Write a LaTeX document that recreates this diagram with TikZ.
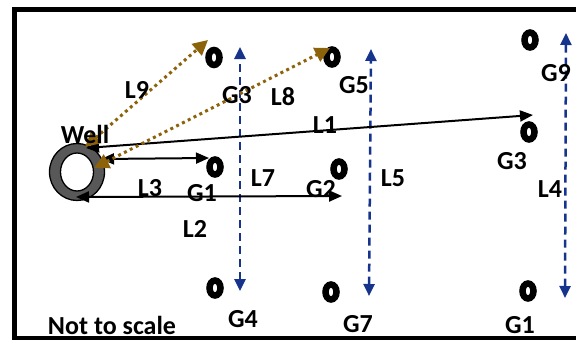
\documentclass[tikz,border=0pt]{standalone}
\usepackage{fontspec}
\setmainfont{Carlito}
\usetikzlibrary{arrows.meta,shapes.geometric}
\definecolor{dotbrown}{RGB}{140,98,10}
\definecolor{dashblue}{RGB}{22,52,140}
\definecolor{ringgray}{RGB}{88,88,88}

\begin{document}
\begin{tikzpicture}[x=1pt,y=-1pt,
  lbl/.style={font=\fontsize{26}{26}\selectfont\bfseries, inner sep=0pt},
  gauge/.style={draw=black, line width=6.5pt, ellipse, minimum width=11pt,
                minimum height=15pt, inner sep=0pt},
  solidlink/.style={draw=black, line width=2pt,
                {Triangle[length=13pt,width=11pt]}-{Triangle[length=13pt,width=11pt]}},
  dottedlink/.style={draw=dotbrown, line width=3pt, dash pattern=on 3pt off 3.5pt,
                {Triangle[length=15pt,width=15pt]}-{Triangle[length=15pt,width=15pt]}},
  dashedlink/.style={draw=dashblue, line width=2.5pt, dash pattern=on 8pt off 5pt,
                {Triangle[length=12pt,width=11pt]}-{Triangle[length=12pt,width=11pt]}},
]
\clip (0,0) rectangle (576,340);
\useasboundingbox (0,0) rectangle (576,340);

% frame, open on the right
\draw[line width=4.5pt] (600,9.7) -- (14.5,9.7) -- (14.5,338.5) -- (600,338.5);

% the well
\coordinate (well) at (77,172);
\path[fill=ringgray, draw=black, line width=1.3pt, even odd rule]
  (well) ellipse [x radius=27.5, y radius=28.5]
  (well) ellipse [x radius=16.5, y radius=19];

% gauges
\node[gauge] (g3a) at (214,57.5) {};
\node[gauge] (g5)  at (332,57) {};
\node[gauge] (g9)  at (530,40) {};
\node[gauge] (g3b) at (529,132) {};
\node[gauge] (g1a) at (215,167) {};
\node[gauge] (g2)  at (339,169) {};
\node[gauge] (g4)  at (215,288) {};
\node[gauge] (g7)  at (331,292) {};
\node[gauge] (g1b) at (528,291) {};

% connector end points
\coordinate (l1s) at (86,148);   \coordinate (l1e) at (533,115);
\coordinate (l7s) at (101,159);  \coordinate (l7e) at (209,158);
\coordinate (l3s) at (76,197);   \coordinate (l3e) at (342,196);
\coordinate (l9s) at (85,147);   \coordinate (l9e) at (208,40);
\coordinate (l8s) at (94,168);   \coordinate (l8e) at (330,48);
\coordinate (v1t) at (240,47);   \coordinate (v1b) at (240,291);
\coordinate (v2t) at (371,49);   \coordinate (v2b) at (369,296);
\coordinate (v3t) at (566,33);   \coordinate (v3b) at (565,298);

% vertical transects
\draw[dashedlink] (v1b) -- (v1t);
\draw[dashedlink] (v2b) -- (v2t);
\draw[dashedlink] (v3b) -- (v3t);

% radial lines from the well
\draw[solidlink] (l1s) -- (l1e);
\draw[solidlink] (l7s) -- (l7e);
\draw[solidlink] (l3s) -- (l3e);
\draw[dottedlink] (l9s) -- (l9e);
\draw[dottedlink] (l8s) -- (l8e);

% labels
\node[lbl] (twell) at (85,134) {Well};
\node[lbl] (tl9) at (137,90) {L9};
\node[lbl] (tg3a) at (237,95) {G3};
\node[lbl] (tl8) at (283,97) {L8};
\node[lbl] (tg5) at (354,85) {G5};
\node[lbl] (tl1) at (325,125) {L1};
\node[lbl] (tg9) at (556,73) {G9};
\node[lbl] (tg3b) at (512,161) {G3};
\node[lbl] (tl3) at (150,188) {L3};
\node[lbl] (tg1a) at (202,193) {G1};
\node[lbl] (tl7) at (263,178) {L7};
\node[lbl] (tg2) at (321,189) {G2};
\node[lbl] (tl5) at (393,178) {L5};
\node[lbl] (tl4) at (550,189) {L4};
\node[lbl] (tl2) at (195,229) {L2};
\node[lbl] (tg4) at (243,319) {G4};
\node[lbl] (tg7) at (358,324) {G7};
\node[lbl] (tg1b) at (520,325) {G1};
\node[lbl] (tnote) at (112,325) {Not to scale};
\end{tikzpicture}
\end{document}
